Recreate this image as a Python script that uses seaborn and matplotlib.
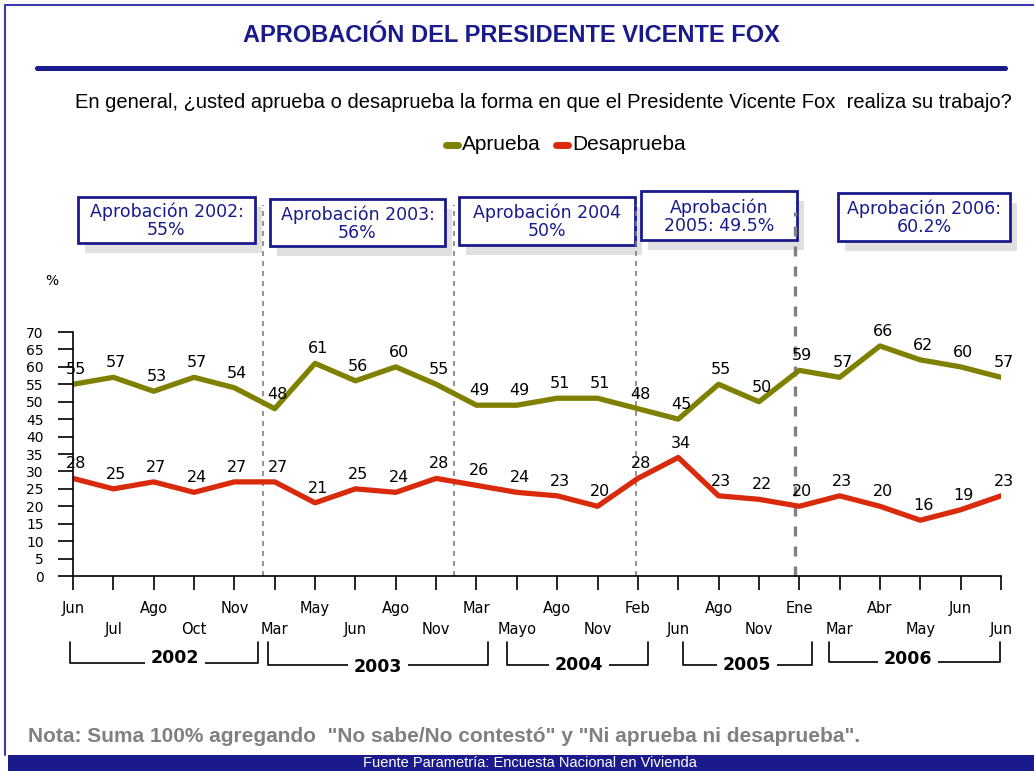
import seaborn as sns
import matplotlib.pyplot as plt
import pandas as pd
from matplotlib.patches import Rectangle, FancyBboxPatch

# datos de la encuesta (porcentajes)
meses = ["Jun", "Jul", "Ago", "Oct", "Nov",
         "Mar", "May", "Jun", "Ago", "Nov",
         "Mar", "Mayo", "Ago", "Nov",
         "Feb", "Jun", "Ago", "Nov",
         "Ene", "Mar", "Abr", "May", "Jun", "Jun"]
aprueba = [55, 57, 53, 57, 54, 48, 61, 56, 60, 55, 49, 49,
           51, 51, 48, 45, 55, 50, 59, 57, 66, 62, 60, 57]
desaprueba = [28, 25, 27, 24, 27, 27, 21, 25, 24, 28, 26, 24,
              23, 20, 28, 34, 23, 22, 20, 23, 20, 16, 19, 23]
anios = ["2002", "2003", "2004", "2005", "2006"]
aprob_anual = ["Aprobación 2002:\n55%", "Aprobación 2003:\n56%",
               "Aprobación 2004\n50%", "Aprobación\n2005: 49.5%",
               "Aprobación 2006:\n60.2%"]
cortes = [4.7, 9.45, 13.95, 17.9]

df = pd.DataFrame({"i": list(range(len(meses))) * 2,
                   "valor": aprueba + desaprueba,
                   "serie": ["Aprueba"] * len(meses) + ["Desaprueba"] * len(meses)})

sns.set_style("white")
plt.rcParams["font.family"] = ["DejaVu Sans"]
plt.rcParams["text.color"] = "black"
plt.rcParams["xtick.color"] = "black"
plt.rcParams["ytick.color"] = "black"
narrow = ["Liberation Sans", "DejaVu Sans"]
azul = "#1a1a8c"
colores = {"Aprueba": "#808000", "Desaprueba": "#d92b0c"}

W, H = 1034, 771
fig = plt.figure(figsize=(W / 100, H / 100), dpi=100)

# capa de decoracion en pixeles
deco = fig.add_axes([0, 0, 1, 1])
deco.set_xlim(0, W)
deco.set_ylim(H, 0)
deco.axis("off")

ax = fig.add_axes([73 / W, 1 - 576 / H, (1001 - 73) / W, (576 - 332) / H])
sns.lineplot(data=df, x="i", y="valor", hue="serie", palette=colores,
             linewidth=3.8, ax=ax, legend=False)
ax.set_xlim(0, len(meses) - 1)
ax.set_ylim(0, 70)
ax.set_yticks(range(0, 71, 5))
ax.set_xticks(range(len(meses)))
ax.set_xticklabels([m if k % 2 == 0 else "\n" + m for k, m in enumerate(meses)],
                   fontsize=10.5, linespacing=1.5)
ax.tick_params(axis="y", labelsize=10, length=11, width=1.2, direction="out", left=True, pad=10)
ax.tick_params(axis="x", length=10, width=1.2, direction="out", bottom=True, pad=8)
for s in ["top", "right"]:
    ax.spines[s].set_visible(False)
for s in ["left", "bottom"]:
    ax.spines[s].set_linewidth(1.2)
    ax.spines[s].set_color("black")
ax.set_xlabel("")
ax.set_ylabel("")
ax.patch.set_alpha(0)

for serie in (aprueba, desaprueba):
    for k, v in enumerate(serie):
        ax.annotate(str(v), (k, v), xytext=(2, 5), textcoords="offset points",
                    ha="center", va="bottom", fontsize=11.5)

alto = (576 - 332)
for k, c in enumerate(cortes):
    tope = (576 - (212 if k == 3 else 205)) / alto
    ax.axvline(c, ymin=0, ymax=tope, color="gray", ls=(0, (3, 3)),
               lw=2.4 if k == 3 else 1.2, clip_on=False, zorder=0)

# marco
deco.plot([5, 5], [5, 755], color="#3a3aaa", lw=1.5)
deco.plot([5, W], [5, 5], color="#3a3aaa", lw=1.5)
deco.add_patch(FancyBboxPatch((35, 66), 973, 5, boxstyle="round,pad=0,rounding_size=2.5",
                              color=azul, lw=0))
deco.add_patch(Rectangle((8, 755), W - 8, 16, color=azul, lw=0))
deco.text(530, 763, "Fuente Parametría: Encuesta Nacional en Vivienda", color="white",
          fontsize=10.5, ha="center", va="center", family=narrow)

deco.text(511, 36, "APROBACIÓN DEL PRESIDENTE VICENTE FOX", color=azul, fontsize=17,
          fontweight="bold", ha="center", va="center", family=narrow)
deco.text(543, 103, "En general, ¿usted aprueba o desaprueba la forma en que el Presidente "
          "Vicente Fox  realiza su trabajo?", fontsize=14.5, ha="center", va="center", family=narrow)
deco.text(52, 281, "%", fontsize=10, ha="center", va="center")
deco.text(28, 737, "Nota: Suma 100% agregando  \"No sabe/No contestó\" y \"Ni aprueba ni desaprueba\".",
          color="#808080", fontsize=15, fontweight="bold", ha="left", va="center", family=narrow)

# leyenda
for serie, x0 in (("Aprueba", 446), ("Desaprueba", 556)):
    deco.plot([x0, x0 + 12], [145, 145], color=colores[serie], lw=5, solid_capstyle="round")
    deco.text(x0 + 16, 145, serie, fontsize=15, ha="left", va="center", family=narrow)

# cuadros de aprobacion anual
cajas = [(78, 197, 177, 46), (270, 199, 175, 47), (459, 197, 176, 48),
         (641, 191, 156, 49), (838, 193, 172, 48)]
for (x, y, w, h), txt in zip(cajas, aprob_anual):
    deco.add_patch(Rectangle((x + 7, y + 10), w, h, color="#e0e0e0", lw=0))
    deco.add_patch(Rectangle((x, y), w, h, facecolor="white", edgecolor=azul, lw=2))
    deco.text(x + w / 2, y + h / 2 + 1, txt, color=azul, fontsize=12.5, ha="center",
              va="center", linespacing=1.0)

# corchetes de anio
corchetes = [(70, 258, 175, 663, 658), (268, 488, 378, 665, 667), (507, 648, 579, 665, 665),
             (683, 812, 747, 665, 665), (829, 1000, 908, 662, 659)]
for (a, b, xt, yl, yt), anio in zip(corchetes, anios):
    deco.plot([a, a, b, b], [642, yl, yl, 642], color="black", lw=1.2)
    deco.text(xt, yt, anio, fontsize=12.5, fontweight="bold", ha="center", va="center",
              bbox=dict(facecolor="white", edgecolor="none", pad=4))

fig.savefig("out.png", dpi=100)
